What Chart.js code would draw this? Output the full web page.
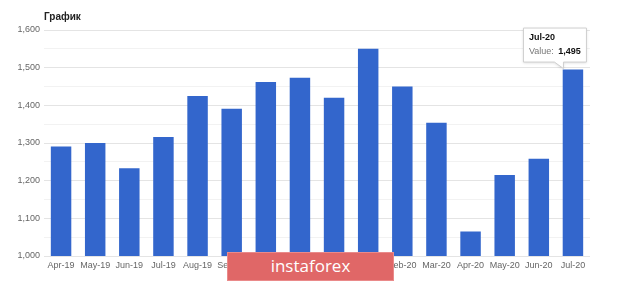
<!DOCTYPE html>
<html>
<head>
<meta charset="utf-8">
<script src="https://cdn.jsdelivr.net/npm/chart.js@4/dist/chart.umd.min.js"></script>
<style>
  html, body { margin: 0; padding: 0; background: #fff; }
  #wrap { position: relative; width: 620px; height: 282px; }
  #title { position: absolute; left: 44px; top: 11px; font: bold 10px "Liberation Sans", Arial, sans-serif; color: #222; }
  #wm { position: absolute; left: 227px; top: 252px; width: 167px; height: 29px; background: #e06767;
        border: 1px solid #ea8a8a; box-sizing: border-box; color: #fff; text-align: center;
        font: 17px "Open Sans", sans-serif; line-height: 26px; }
</style>
</head>
<body>
<div id="wrap">
  <canvas id="c" width="620" height="282"></canvas>
  <div id="title">График</div>
  <div id="wm">instaforex</div>
</div>
<script>
const categories = ["Apr-19","May-19","Jun-19","Jul-19","Aug-19","Sep-19","Oct-19","Nov-19","Dec-19","Jan-20","Feb-20","Mar-20","Apr-20","May-20","Jun-20","Jul-20"];
const values = [1291, 1300, 1233, 1316, 1425, 1391, 1462, 1473, 1420, 1550, 1450, 1354, 1065, 1215, 1258, 1495];
const yMin = 1000, yMax = 1600, yStep = 50;
const tooltipIndex = 15;

const fontFamily = '"Liberation Sans", Arial, sans-serif';

const tooltipPlugin = {
  id: 'fixedTip',
  afterDraw(chart) {
    const el = chart.getDatasetMeta(0).data[tooltipIndex];
    if (!el) return;
    const ctx = chart.ctx;
    const bx = el.x - 50, by = el.y - 42, bw = 63, bh = 34;
    const tipX = el.x - 10, tipY = el.y - 1;
    ctx.save();
    ctx.shadowColor = 'rgba(0,0,0,0.15)';
    ctx.shadowBlur = 3;
    ctx.shadowOffsetY = 1;
    ctx.fillStyle = '#fff';
    ctx.strokeStyle = '#cfcfcf';
    ctx.lineWidth = 1;
    ctx.beginPath();
    ctx.moveTo(bx + 0.5, by + 0.5);
    ctx.lineTo(bx + bw + 0.5, by + 0.5);
    ctx.lineTo(bx + bw + 0.5, by + bh + 0.5);
    ctx.lineTo(tipX + 0.5, by + bh + 0.5);
    ctx.lineTo(tipX + 0.5, tipY);
    ctx.lineTo(tipX - 8.5, by + bh + 0.5);
    ctx.lineTo(bx + 0.5, by + bh + 0.5);
    ctx.closePath();
    ctx.fill();
    ctx.shadowColor = 'transparent';
    ctx.stroke();
    ctx.textBaseline = 'alphabetic';
    ctx.fillStyle = '#111';
    ctx.font = 'bold 9px ' + fontFamily;
    ctx.fillText(categories[tooltipIndex], bx + 6, by + 12);
    ctx.font = '9px ' + fontFamily;
    ctx.fillStyle = '#777';
    const lbl = 'Value: ';
    ctx.fillText(lbl, bx + 6, by + 26);
    const w = ctx.measureText(lbl).width;
    ctx.font = 'bold 9px ' + fontFamily;
    ctx.fillStyle = '#111';
    ctx.fillText(values[tooltipIndex].toLocaleString('en-US'), bx + 6 + w + 2, by + 26);
    ctx.restore();
  }
};

new Chart(document.getElementById('c'), {
  type: 'bar',
  data: {
    labels: categories,
    datasets: [{
      data: values,
      backgroundColor: '#3366cc',
      borderWidth: 0,
      categoryPercentage: 1.0,
      barPercentage: 0.6
    }]
  },
  options: {
    responsive: false,
    animation: false,
    events: [],
    layout: { padding: { top: 30, right: 30, left: 0, bottom: 0 } },
    plugins: { legend: { display: false }, tooltip: { enabled: false }, title: { display: false } },
    scales: {
      x: {
        grid: { display: false, drawTicks: false },
        border: { display: false },
        ticks: { color: '#666', font: { family: fontFamily, size: 9 }, padding: 4, maxRotation: 0, autoSkip: false },
        afterFit(s) { s.height = 26; }
      },
      y: {
        min: yMin, max: yMax,
        border: { display: false },
        grid: {
          drawTicks: false,
          color: (c) => (c.tick && c.tick.value % 100 === 0) ? '#e4e4e4' : '#f2f2f2'
        },
        ticks: {
          stepSize: yStep,
          color: '#666',
          padding: 4,
          font: { family: fontFamily, size: 9 },
          callback: (v) => v % 100 === 0 ? v.toLocaleString('en-US') : ''
        },
        afterFit(s) { s.width = 44; }
      }
    }
  },
  plugins: [tooltipPlugin]
});
</script>
</body>
</html>
